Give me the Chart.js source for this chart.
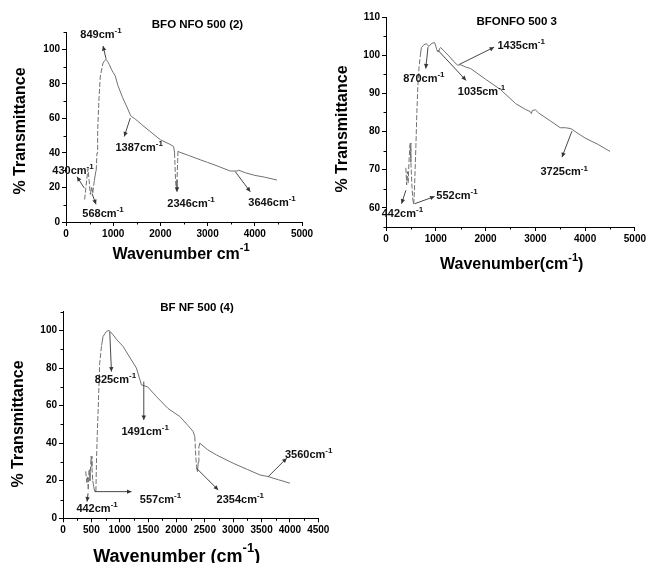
<!DOCTYPE html>
<html><head><meta charset="utf-8">
<script src="https://cdn.jsdelivr.net/npm/chart.js@4"></script>
<style>
html,body{margin:0;padding:0;background:#fff;overflow:hidden;width:648px;height:563px;}
canvas{position:absolute;}
</style></head><body>
<canvas id="c1" width="320" height="280" style="left:0;top:0"></canvas>
<canvas id="c2" width="328" height="280" style="left:320px;top:0"></canvas>
<canvas id="c3" width="340" height="288" style="left:0;top:275px"></canvas>
<script>
// ---- Panel 1: BFO NFO 500 (2)
const wn1 = [395,430,466,490,515,545,568,600,630,640,657,671,700,727,784,820,849,880,920,960,1000,1045,1100,1200,1300,1363,1387,1450,1600,1800,2000,2200,2281,2300,2320,2335,2350,2365,2373,2400,2600,2846,3000,3200,3481,3623,3660,3800,4000,4200,4470];
const tr1 = [13,22,31,24,16,20,17,24,29,30,40,53,72,84.5,92,93.5,94.2,93,91,88.5,86.5,84.5,79,72,66,62,61,60,56.5,52,47.6,45,43.7,40,25,18.5,22,35,41,40.5,38.5,36,34.5,32.5,29.5,29.5,30,28.5,27,26,24.3];
const ann1 = [
  {label:'849', x:303, y:106.4, from:[849,94.5], to:[784,101.9]},
  {label:'430', x:-290, y:27.8, from:[388,19.6], to:[233,26.2]},
  {label:'568', x:345, y:2.7, from:[551,16.5], to:[636,10.3]},
  {label:'1387', x:1047, y:41.2, from:[1362,60.2], to:[1235,49.5]},
  {label:'2346', x:2147, y:8.6, from:[2352,24.3], to:[2352,17.5]},
  {label:'3646', x:3863, y:9.1, from:[3588,29.1], to:[3905,17.5]}
];
// ---- Panel 2: BFONFO 500 3
const wn2 = [399,415,430,445,465,485,500,520,540,558,575,600,620,640,665,690,711,760,811,840,864,900,944,977,1000,1020,1035,1060,1080,1100,1150,1250,1350,1435,1500,1600,1700,2000,2300,2606,2800,2900,2920,2940,3000,3072,3300,3500,3604,3700,3737,3800,4000,4250,4500];
const tr2 = [70.5,66,69.5,66.5,73,77,72,66,62,61,66,76,85,92,97,100,102,102.7,103,102.5,102.3,102.9,103.2,103.3,102.4,101.5,100.9,101,101.8,102,101.3,100,98.5,97.4,97.5,96.9,96.5,93.7,91,87.3,85.8,85.2,84.7,85.5,85.7,84.8,82.8,81,81,80.8,80.6,80,78.3,76.7,74.8];
const ann2 = [
  {label:'1435', x:2240, y:101.7, from:[1475,97.6], to:[2173,102.1]},
  {label:'870', x:345, y:93.0, from:[844,102.1], to:[798,96.5]},
  {label:'1035', x:1442, y:89.5, from:[1043,101.3], to:[1609,93.4]},
  {label:'3725', x:3104, y:68.5, from:[3735,80.1], to:[3536,73.3]},
  {label:'552', x:1011, y:62.4, from:[578,61.1], to:[977,63.0]},
  {label:'442', x:-86, y:57.6, from:[399,64.6], to:[313,61.1]}
];
// ---- Panel 3: BF NF 500 (4)
const wn3 = [400,420,435,445,460,475,495,510,525,540,557,580,590,604,618,647,680,706,765,812,840,882,950,1059,1150,1294,1383,1491,1647,1850,2059,2200,2294,2323,2340,2353,2370,2385,2395,2412,2550,2706,3000,3250,3470,3617,3800,4000];
const tr3 = [25,19,22,15,26,20,33,27,20,17,14.5,14.5,30,45,56,82.6,92,96.8,99.5,100,99.2,97.7,95,91.5,87,80,71,70,64.8,58.5,54.2,49.5,46.2,43.5,33,27.5,24.9,30,38,40,36.5,33.7,29.3,26,23.1,22.2,20.5,18.7];
const ann3 = [
  {label:'825', x:560, y:71.9, from:[824,99.4], to:[854,78.1]},
  {label:'1491', x:1030, y:44.4, from:[1424,72.8], to:[1424,52.4]},
  {label:'442', x:236, y:3.5, from:[442,13.3], to:[424,8.9]},
  {label:'557', x:1354, y:8.0, from:[560,14.2], to:[1207,14.2]},
  {label:'2354', x:2707, y:8.0, from:[2354,26.6], to:[2736,15.1]},
  {label:'3560', x:3913, y:32, from:[3618,22.2], to:[3943,32]}
];

const FF = '"Liberation Sans", Arial, Helvetica, sans-serif';

function supText(ctx, x, y, base, sup, tail, size, align) {
  const ss = Math.round(size * 0.7);
  ctx.font = `bold ${size}px ${FF}`;
  const w1 = ctx.measureText(base).width, w3 = ctx.measureText(tail).width;
  ctx.font = `bold ${ss}px ${FF}`;
  const w2 = ctx.measureText(sup).width;
  let sx = align === 'center' ? x - (w1 + w2 + w3) / 2 : x;
  ctx.textAlign = 'left';
  ctx.font = `bold ${size}px ${FF}`;
  ctx.fillText(base, sx, y);
  ctx.font = `bold ${ss}px ${FF}`;
  ctx.fillText(sup, sx + w1, y - size * 0.45);
  ctx.font = `bold ${size}px ${FF}`;
  ctx.fillText(tail, sx + w1 + w2, y);
}

function arrow(ctx, x0, y0, x1, y1) {
  ctx.beginPath(); ctx.moveTo(x0, y0); ctx.lineTo(x1, y1); ctx.stroke();
  const a = Math.atan2(y1 - y0, x1 - x0), L = 4.5, W = 2.2;
  ctx.beginPath();
  ctx.moveTo(x1, y1);
  ctx.lineTo(x1 - L * Math.cos(a) + W * Math.sin(a), y1 - L * Math.sin(a) - W * Math.cos(a));
  ctx.lineTo(x1 - L * Math.cos(a) - W * Math.sin(a), y1 - L * Math.sin(a) + W * Math.cos(a));
  ctx.closePath(); ctx.fill();
}

const ftirPlugin = {
  id: 'ftir',
  afterDraw(chart, args, o) {
    const ctx = chart.ctx, xs = chart.scales.x, ys = chart.scales.y, ca = chart.chartArea;
    ctx.save();
    // minor ticks
    ctx.strokeStyle = '#000'; ctx.lineWidth = 1;
    ctx.beginPath();
    for (let v = ys.min; v <= ys.max + 1e-6; v += o.yMinor) {
      if (Math.abs(v / o.yStep - Math.round(v / o.yStep)) < 1e-6) continue;
      const py = Math.round(ys.getPixelForValue(v)) + 0.5;
      ctx.moveTo(ca.left - 2.5, py); ctx.lineTo(ca.left, py);
    }
    for (let v = xs.min; v <= xs.max + 1e-6; v += o.xMinor) {
      if (Math.abs(v / o.xStep - Math.round(v / o.xStep)) < 1e-6) continue;
      const px = Math.round(xs.getPixelForValue(v)) + 0.5;
      ctx.moveTo(px, ca.bottom); ctx.lineTo(px, ca.bottom + 2.5);
    }
    ctx.stroke();
    // annotations
    ctx.strokeStyle = '#333'; ctx.fillStyle = '#333'; ctx.lineWidth = 0.9;
    o.ann.forEach(a => {
      arrow(ctx, xs.getPixelForValue(a.from[0]), ys.getPixelForValue(a.from[1]),
                 xs.getPixelForValue(a.to[0]), ys.getPixelForValue(a.to[1]));
    });
    ctx.fillStyle = '#111'; ctx.textBaseline = 'alphabetic';
    o.ann.forEach(a => {
      supText(ctx, xs.getPixelForValue(a.x), ys.getPixelForValue(a.y), a.label + 'cm', '-1', '', 11, 'left');
    });
    // titles
    ctx.fillStyle = '#000';
    ctx.textBaseline = 'middle'; ctx.textAlign = 'center';
    ctx.font = `bold 11.5px ${FF}`;
    ctx.fillText(o.title, o.titlePos[0], o.titlePos[1]);
    ctx.save();
    ctx.translate(o.yTitlePos[0], o.yTitlePos[1]); ctx.rotate(-Math.PI / 2);
    ctx.font = `bold ${o.yTitleSize}px ${FF}`;
    ctx.fillText('% Transmittance', 0, 0);
    ctx.restore();
    ctx.textBaseline = 'middle';
    supText(ctx, o.xTitlePos[0], o.xTitlePos[1], o.xTitle[0], o.xTitle[1], o.xTitle[2], o.xTitleSize, 'center');
    ctx.restore();
  }
};

function makeChart(id, wn, tr, ann, c) {
  const tickFont = {family: FF, size: 10, weight: 'bold'};
  const plain = v => String(v);
  return new Chart(document.getElementById(id), {
    type: 'line',
    data: {datasets: [{
      data: wn.map((x, i) => ({x: x, y: tr[i]})),
      borderColor: '#707070', borderWidth: 1, pointRadius: 0, tension: 0, fill: false,
      segment: {borderDash: s => {
        const dx = Math.abs(s.p1.x - s.p0.x), dy = Math.abs(s.p1.y - s.p0.y);
        return (dy > 4 * dx && dy > 10) ? [5, 2] : undefined;
      }}
    }]},
    options: {
      responsive: false, animation: false, devicePixelRatio: 1,
      layout: {padding: {left: 0, right: c.padR, top: c.padT, bottom: 0}},
      plugins: {
        legend: {display: false}, tooltip: {enabled: false}, title: {display: false},
        ftir: Object.assign({ann: ann}, c)
      },
      scales: {
        x: {type: 'linear', min: 0, max: c.xmax,
          afterFit: s => { s.height = c.xH; },
          ticks: {stepSize: c.xStep, autoSkip: false, maxRotation: 0, includeBounds: false, font: tickFont, color: '#000', padding: 2, callback: plain},
          grid: {drawOnChartArea: false, tickLength: 4, tickColor: '#000', tickWidth: 1},
          border: {color: '#000', width: 1}},
        y: {type: 'linear', min: c.ymin, max: c.ymax,
          afterFit: s => { s.width = c.yW; },
          ticks: {stepSize: c.yStep, autoSkip: false, includeBounds: false, font: tickFont, color: '#000', padding: 2, callback: plain},
          grid: {drawOnChartArea: false, tickLength: 4, tickColor: '#000', tickWidth: 1},
          border: {color: '#000', width: 1}}
      }
    },
    plugins: [ftirPlugin]
  });
}

makeChart('c1', wn1, tr1, ann1, {padR: 18, padT: 32, xH: 58, yW: 66, xmax: 5000, xStep: 1000, xMinor: 500,
  ymin: 0, ymax: 110, yStep: 20, yMinor: 10, title: 'BFO NFO 500 (2)', titlePos: [197.5, 25],
  yTitlePos: [21, 131], yTitleSize: 16, xTitle: ['Wavenumber cm', '-1', ''], xTitlePos: [181, 255], xTitleSize: 16});
makeChart('c2', wn2, tr2, ann2, {padR: 11, padT: 17, xH: 53, yW: 66, xmax: 5000, xStep: 1000, xMinor: 500,
  ymin: 55, ymax: 110, yStep: 10, yMinor: 5, title: 'BFONFO 500 3', titlePos: [196.7, 21.7],
  yTitlePos: [22.5, 129], yTitleSize: 16, xTitle: ['Wavenumber(cm', '-1', ')'], xTitlePos: [191.7, 265], xTitleSize: 16});
makeChart('c3', wn3, tr3, ann3, {padR: 21.7, padT: 36.7, xH: 44.7, yW: 63, xmax: 4500, xStep: 500, xMinor: 250,
  ymin: 0, ymax: 110, yStep: 20, yMinor: 10, title: 'BF NF 500 (4)', titlePos: [197, 33.3],
  yTitlePos: [19, 149], yTitleSize: 16, xTitle: ['Wavenumber (cm', '-1', ')'], xTitlePos: [176.7, 281.7], xTitleSize: 18});
</script></body></html>
